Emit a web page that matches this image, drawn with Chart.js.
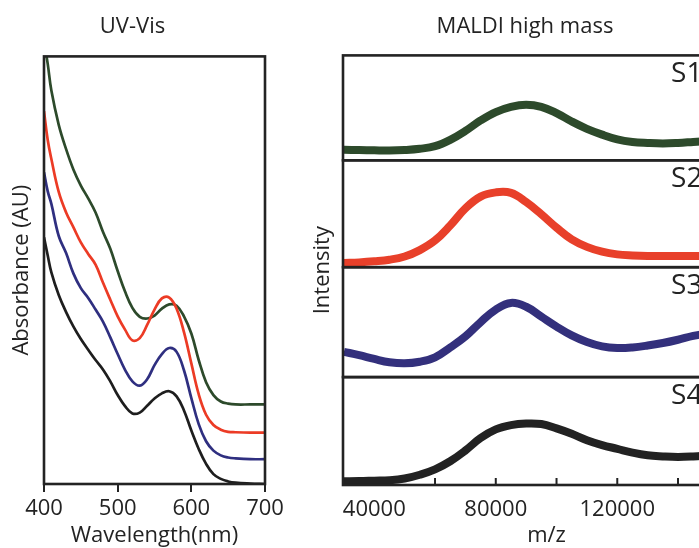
<!DOCTYPE html>
<html>
<head>
<meta charset="utf-8">
<script src="https://cdn.jsdelivr.net/npm/chart.js@4.4.1/dist/chart.umd.min.js"></script>
<style>
  html, body { margin: 0; padding: 0; background: #fff; overflow: hidden; }
  body { width: 699px; height: 548px; position: relative; }
  #uvChart { position: absolute; left: 0; top: 0; }
  #maldiChart { position: absolute; left: 300px; top: 0; }
</style>
</head>
<body>
<canvas id="uvChart" width="310" height="548"></canvas>
<canvas id="maldiChart" width="450" height="548"></canvas>
<script>
// --- UV-Vis data (absorbance, arbitrary units) ---
const wavelengths = [400, 405, 410, 420, 430, 440, 450, 460, 470, 480, 490, 500, 510, 520, 530,
                     540, 550, 560, 570, 580, 590, 600, 610, 620, 630, 640, 650, 660, 680, 700];
const uvS1 = [103.5, 98.3, 92, 84, 78.3, 73.5, 69.8, 66.8, 63.5, 59, 55, 49.8, 45, 41.2, 39.1,
              38.7, 39.4, 41, 42, 41.7, 39.2, 35.2, 29, 23.8, 20.8, 19.3, 18.8, 18.6, 18.6, 18.6];
const uvS2 = [87.2, 80.5, 76, 68.3, 63.5, 60, 56.5, 53.8, 51.3, 47.1, 43.1, 39.2, 36.1, 33.6, 34.1,
              37.2, 40.8, 43.4, 43.6, 41, 35.5, 28.2, 21, 16.2, 13.8, 12.7, 12.2, 12.1, 12, 12];
const uvS3 = [72.9, 68.5, 65.5, 58, 54, 49.2, 45.8, 43.5, 40.8, 38, 34.3, 30.4, 26.7, 24, 23,
              24.5, 27.8, 30.4, 31.8, 30.9, 26.6, 20.1, 14, 10, 7.8, 6.7, 6.2, 6, 5.8, 5.8];
const uvS4 = [57.7, 53.5, 49.5, 44.2, 40.2, 36.8, 33.9, 31.4, 29, 26.8, 24, 20.8, 18.2, 16.5, 16.7,
              18.3, 20, 21.2, 21.7, 20.5, 17.2, 12.5, 8.2, 4.7, 2.3, 1.2, 0.6, 0.3, 0.1, 0];
const uvTicks = [400, 500, 600, 700];

// --- MALDI high mass data (relative intensity per panel) ---
const massAxis = [30000, 35000, 40000, 45000, 50000, 55000, 60000, 65000, 70000, 75000, 80000, 85000,
                  90000, 95000, 100000, 105000, 110000, 115000, 120000, 125000, 130000, 135000,
                  140000, 145000, 150000];
const maldiS1 = [10, 9.8, 9.5, 9.3, 9.8, 11, 13.5, 19.5, 28, 38, 46, 51, 53, 51, 45, 37, 30, 24.5,
                 20, 17.5, 16.5, 16, 16.5, 17.5, 18.5];
const maldiS2 = [4, 4.5, 5.5, 7, 10, 16, 25, 39, 55, 66, 70, 69.5, 61, 49.5, 37, 26, 19, 14.5,
                 12, 11, 10.5, 10.5, 10.5, 10.5, 10.5];
const maldiS3 = [23, 20, 16.5, 13.5, 12.5, 14, 18, 27, 37, 50, 61.5, 67.5, 64, 55, 46, 38, 32, 28,
                 26.5, 27, 28.7, 31, 34, 37.5, 40];
const maldiS4 = [3.5, 3.6, 4, 4.4, 6, 9.5, 14.5, 22, 32, 43.5, 51.5, 55.5, 57, 56.5, 52.5, 47.5,
                 41.5, 37, 33.5, 30, 27.5, 26.5, 26, 26.5, 27.5];
const mzTickMarks = [60000, 80000, 100000, 120000, 140000];
const mzTickLabels = [40000, 80000, 120000];
const panelLabels = ['S1', 'S2', 'S3', 'S4'];

const ink = '#232323';
Chart.defaults.font.family = "'Open Sans', sans-serif";
Chart.defaults.color = ink;

const toXY = (xs, ys) => xs.map((x, i) => ({ x: x, y: ys[i] }));

// frame around each plot area (one rectangle per y axis), panel labels, inward ticks
const framePlugin = {
    id: 'frame',
    afterDatasetsDraw(chart, args, opts) {
        const { ctx, chartArea: a } = chart;
        ctx.save();
        ctx.strokeStyle = ink;
        ctx.lineWidth = 2.6;
        opts.axes.forEach(function (id, i) {
            const s = chart.scales[id];
            ctx.strokeRect(a.left, s.top, a.right - a.left, s.bottom - s.top);
            if (opts.labels) {
                ctx.fillStyle = ink;
                ctx.font = "28px 'Open Sans', sans-serif";
                ctx.textAlign = 'left';
                ctx.textBaseline = 'middle';
                ctx.fillText(opts.labels[i], chart.scales.x.getPixelForValue(opts.labelAt), s.top + 19);
            }
        });
        if (opts.inTicks) {
            const x = chart.scales.x;
            ctx.lineWidth = 2;
            opts.inTicks.forEach(function (v) {
                const px = x.getPixelForValue(v);
                ctx.beginPath();
                ctx.moveTo(px, a.bottom);
                ctx.lineTo(px, a.bottom - 7);
                ctx.stroke();
            });
        }
        ctx.restore();
    }
};

// --- UV-Vis ---
const uvLine = (data, color) => ({
    data: toXY(wavelengths, data),
    borderColor: color,
    borderWidth: 2.7,
    pointRadius: 0,
    tension: 0.4,
    fill: false
});

new Chart(document.getElementById('uvChart'), {
    type: 'line',
    data: {
        datasets: [
            uvLine(uvS4, '#1e1e1e'),
            uvLine(uvS3, '#2f2f80'),
            uvLine(uvS2, '#ec3b25'),
            uvLine(uvS1, '#2d4a2b')
        ]
    },
    options: {
        responsive: false,
        animation: false,
        devicePixelRatio: 1,
        layout: { padding: { left: 0, right: 45, top: 0, bottom: 0 } },
        plugins: {
            legend: { display: false },
            tooltip: { enabled: false },
            title: {
                display: true,
                text: 'UV-Vis',
                font: { size: 22, weight: 'normal' },
                padding: { top: 14, bottom: 16 }
            },
            frame: { axes: ['y'] }
        },
        scales: {
            x: {
                type: 'linear',
                min: 400,
                max: 700,
                afterBuildTicks: axis => { axis.ticks = uvTicks.map(v => ({ value: v })); },
                afterFit: scale => { scale.height = 64; },
                ticks: { font: { size: 22 }, padding: 4, maxRotation: 0, autoSkip: false },
                grid: { drawOnChartArea: false, drawTicks: true, tickLength: 8, color: ink, lineWidth: 2 },
                border: { display: false },
                title: { display: true, text: 'Wavelength(nm)', font: { size: 22 }, padding: { top: 0, bottom: -1 } }
            },
            y: {
                min: 0,
                max: 100,
                afterFit: scale => { scale.width = 44; },
                ticks: { display: false },
                grid: { display: false },
                border: { display: false },
                title: { display: true, text: 'Absorbance (AU)', font: { size: 22 }, padding: { top: 9, bottom: 0 } }
            }
        }
    },
    plugins: [framePlugin]
});

// --- MALDI high mass ---
const msLine = (data, color, axis) => ({
    data: toXY(massAxis, data),
    yAxisID: axis,
    borderColor: color,
    borderWidth: 8,
    pointRadius: 0,
    tension: 0.4,
    fill: false
});

const panelAxis = weight => ({
    stack: 'maldi',
    stackWeight: weight,
    min: 0,
    max: 100,
    afterFit: scale => { scale.width = 0; },
    ticks: { display: false },
    grid: { display: false },
    border: { display: false }
});

new Chart(document.getElementById('maldiChart'), {
    type: 'line',
    data: {
        datasets: [
            msLine(maldiS1, '#2d4a2b', 's1'),
            msLine(maldiS2, '#e8402a', 's2'),
            msLine(maldiS3, '#33307c', 's3'),
            msLine(maldiS4, '#222222', 's4')
        ]
    },
    options: {
        responsive: false,
        animation: false,
        devicePixelRatio: 1,
        layout: { padding: { left: 0, right: 0, top: 0, bottom: 0 } },
        plugins: {
            legend: { display: false },
            tooltip: { enabled: false },
            title: {
                display: true,
                text: 'MALDI high mass',
                font: { size: 22, weight: 'normal' },
                padding: { top: 14, bottom: 15 }
            },
            frame: {
                axes: ['s1', 's2', 's3', 's4'],
                labels: panelLabels,
                labelAt: 137700,
                inTicks: mzTickMarks
            }
        },
        scales: {
            x: {
                type: 'linear',
                min: 29700,
                max: 163700,
                afterBuildTicks: axis => { axis.ticks = [40000].concat(mzTickMarks).map(v => ({ value: v })); },
                afterFit: scale => { scale.height = 63; },
                ticks: {
                    font: { size: 22 },
                    padding: 12,
                    maxRotation: 0,
                    autoSkip: false,
                    callback: v => mzTickLabels.includes(v) ? String(v) : ''
                },
                grid: { display: false, drawTicks: false, tickLength: 0 },
                border: { display: false },
                title: { display: true, text: 'm/z', font: { size: 22 }, padding: { top: 0, bottom: -1 } }
            },
            s4: panelAxis(108),
            s3: panelAxis(110),
            s2: panelAxis(107),
            s1: panelAxis(105),
            yt: {
                position: 'left',
                weight: 1,
                min: 0,
                max: 1,
                afterFit: scale => { scale.width = 43; },
                ticks: { display: false },
                grid: { display: false },
                border: { display: false },
                title: { display: true, text: 'Intensity', font: { size: 22 }, padding: { top: 10, bottom: 0 } }
            }
        }
    },
    plugins: [framePlugin]
});
</script>
</body>
</html>
